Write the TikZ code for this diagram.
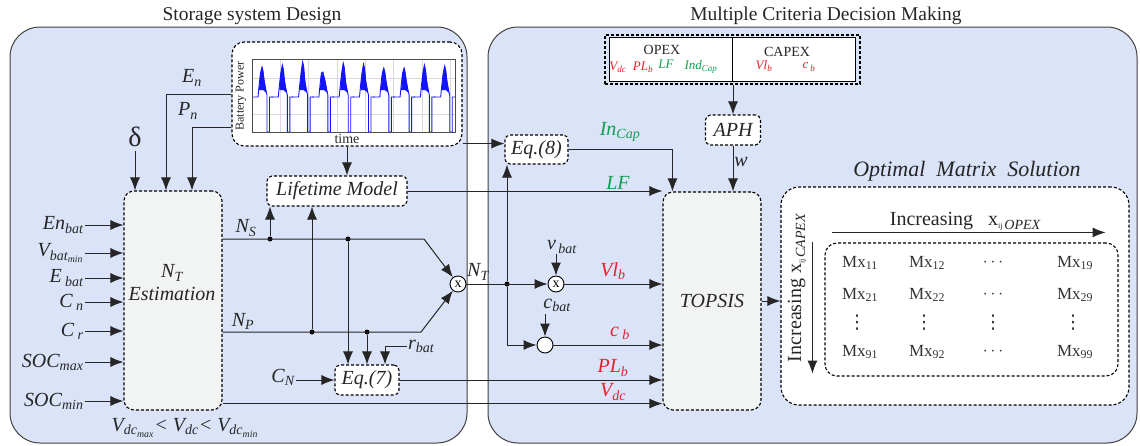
\documentclass[tikz,border=0pt]{standalone}
\usepackage{fontspec}
\setmainfont{Liberation Serif}
\newfontfamily\symfont{DejaVu Sans}
\usetikzlibrary{arrows.meta,positioning,calc}
\definecolor{panelblue}{RGB}{218,227,248}
\definecolor{boxgray}{RGB}{242,244,244}
\definecolor{optred}{RGB}{236,30,45}
\definecolor{optgreen}{RGB}{16,160,80}
\definecolor{pwrblue}{RGB}{20,20,250}
\newcommand{\bigfont}{\fontsize{20}{24}\selectfont}

\begin{document}
\begin{tikzpicture}
[x=1pt,y=-1pt, >={Latex[length=13pt,width=10pt]},
    panel/.style={draw=black!75,fill=panelblue,line width=1pt,rounded corners=30pt,inner sep=0},
    blk/.style={draw,densely dashed,line width=1.1pt,rounded corners=5pt,fill=white,inner sep=0,
    font=\bigfont\itshape,text=black!85},
    gblk/.style={blk,fill=boxgray,rounded corners=10pt},
    lab/.style={font=\bigfont\itshape,text=black!85,inner sep=1pt},
    rlab/.style={lab,text=optred},
    glab/.style={lab,text=optgreen},
    small/.style={font=\fontsize{13}{14}\selectfont\itshape},
    mult/.style={draw,solid,circle,fill=white,minimum size=16pt,inner sep=0,line width=0.9pt,
    font=\fontsize{14}{14}\selectfont},
    jn/.style={circle,fill=black,inner sep=0,minimum size=5pt},
    mx/.style={font=\fontsize{17}{20}\selectfont,text=black!80,inner sep=0}]
\useasboundingbox (0,0) rectangle (1140,445);
%%%%%%%%%%
%% frames
\node[panel,minimum width=457,minimum height=416] (sto) at (238.5,235) {};
\node[panel,minimum width=649,minimum height=416] (mcdm) at (812.5,235) {};
\node[font=\fontsize{19.5}{22}\selectfont,text=black!85] (stoT) at (252,16) {Storage system Design};
\node[font=\fontsize{19.5}{22}\selectfont,text=black!85] (mcdmT) at (826,16) {Multiple Criteria Decision Making};

%% battery power profile
\node[blk,rounded corners=12pt,minimum width=230,minimum height=104] (plot) at (347,94) {};
\begin{scope}
\draw[black!15,line width=0.6pt] (252,78) -- (455,78) (252,114) -- (455,114);
\foreach \gx in {280,308,337,365,393,422,450}
  \draw[black!15,line width=0.6pt] (\gx,59) -- (\gx,132);
\clip (252,59) rectangle (455,132);
\foreach \k/\pk in {0/67,1/65,2/62,3/72,4/63,5/64,6/68,7/68,8/65,9/66} {
  \pgfmathsetmacro\s{252+20.3*\k}
  \fill[pwrblue] ({\s+7},90) -- ({\s+8},76) -- ({\s+10},\pk) -- ({\s+11.5},{\pk+6})
    -- ({\s+13},84) -- ({\s+14.5},93) -- ({\s+11},90) -- cycle;
  \draw[pwrblue,line width=0.9pt] ({\s-1},97) -- ({\s+6},97) -- ({\s+7},86) -- ({\s+8.5},73)
    -- ({\s+10},\pk) -- ({\s+11},{\pk+4}) -- ({\s+12},80) -- ({\s+13.5},88) -- ({\s+14.5},93)
    -- ({\s+15},95) -- ({\s+15},132) -- ({\s+17.5},132) -- ({\s+17.5},97) -- ({\s+21},97);
}
\end{scope}
\draw[black!70,line width=0.8pt] (252,59) rectangle (455,132);
\node[font=\fontsize{12}{12}\selectfont,text=black!85,rotate=90] (pwr) at (241,96) {Battery Power};
\node[font=\fontsize{14}{14}\selectfont,text=black!85] (tm) at (347,139) {time};

%% storage blocks
\node[gblk,minimum width=98,minimum height=219] (est) at (173,300.5) {};
\node[lab,align=center] (estT) at (172,283) {N\textsubscript{T}\\[-1pt]Estimation};
\node[blk,minimum width=140,minimum height=30] (life) at (337,191) {Lifetime Model};
\node[blk,minimum width=64,minimum height=30] (eqseven) at (367,380) {Eq.(7)};
\node[mult] (mulT) at (458,284) {x};
\node[jn] (jS1) at (270,239) {};
\node[jn] (jS2) at (348,239) {};
\node[jn] (jP1) at (312,332) {};
\node[jn] (jP2) at (367,332) {};
\coordinate (nsb) at (424,239);
\coordinate (npb) at (421,332);

%% decision blocks
\node[gblk,minimum width=98,minimum height=218] (topsis) at (712,301) {TOPSIS};
\node[blk,minimum width=63,minimum height=29] (eqeight) at (536.5,149.5) {Eq.(8)};
\node[blk,minimum width=55,minimum height=30] (aph) at (733,130) {APH};
\node[mult] (mulV) at (556,284) {x};
\node[mult] (cost) at (545,345) {};
\node[jn] (jT) at (507,284) {};
\coordinate (vb0) at (556,254);
\coordinate (cb0) at (545,314);

%% criteria table
\node[draw,densely dashed,line width=1.1pt,minimum width=255,minimum height=49,inner sep=0] (crit) at (732.5,59.5) {};
\draw[fill=white,line width=0.8pt] ([shift={(5,3)}]crit.north west) rectangle ([shift={(-5,-3)}]crit.south east);
\draw[line width=0.8pt] ([yshift=-3pt]crit.north) -- ([yshift=3pt]crit.south);
\node[font=\fontsize{14}{16}\selectfont,text=black!85] (opex) at (662,50) {OPEX};
\node[font=\fontsize{14}{16}\selectfont,text=black!85] (capex) at (787,52) {CAPEX};
\node[rlab,small] (tvdc) at (618,67) {V\textsubscript{dc}};
\node[rlab,small] (tplb) at (643,67) {PL\textsubscript{b}};
\node[glab,small] (tlf) at (666,64) {LF};
\node[glab,small] (tind) at (701,67) {Ind\textsubscript{Cap}};
\node[rlab,small] (tvlb) at (764,66) {Vl\textsubscript{b}};
\node[rlab,small] (tcb) at (809,67) {c\,\textsubscript{b}};

%% optimal matrix
\node[blk,rounded corners=18pt,minimum width=348,minimum height=218] (opt) at (955,296) {};
\node[lab,font=\fontsize{22}{26}\selectfont\itshape] (optT) at (967,171) {Optimal\ \ Matrix\ \ Solution};
\node[blk,rounded corners=12pt,minimum width=293,minimum height=133] (mat) at (971.5,309.5) {};
\node[font=\fontsize{20}{24}\selectfont,text=black!85] (opexax) at (965,221)
  {Increasing\ \ \ x\textsubscript{\fontsize{8}{8}\selectfont ij\,}{\fontsize{14}{14}\selectfont\itshape\raisebox{-4pt}{OPEX}}};
\node[font=\fontsize{20}{24}\selectfont,text=black!85,rotate=90] (capexax) at (797,288)
  {Increasing x\textsubscript{\fontsize{8}{8}\selectfont ij\,}{\fontsize{14}{14}\selectfont\itshape\raisebox{-4pt}{CAPEX}}};
\foreach \r/\yy in {1/263,2/295,9/352} {
  \node[mx] (m\r1) at (860,\yy) {Mx\textsubscript{\r1}};
  \node[mx] (m\r2) at (927,\yy) {Mx\textsubscript{\r2}};
  \node[mx] (m\r3) at (993,\yy) {$\cdots$};
  \node[mx] (m\r9) at (1075,\yy) {Mx\textsubscript{\r9}};
}
\foreach \c/\xx in {1/857,2/924,3/993,9/1073}
  \node[mx,font=\fontsize{19}{19}\symfont] (mv\c) at (\xx,323) {⋮};

%% labels
\node[lab,font=\fontsize{28}{30}\selectfont] (dlt) at (135,137) {δ};
\node[lab] (en) at (192,78) {E\textsubscript{n}};
\node[lab] (pn) at (188,111) {P\textsubscript{n}};
\node[lab] (ns) at (246,228) {N\textsubscript{S}};
\node[lab] (np) at (243,321) {N\textsubscript{P}};
\node[lab,anchor=west] (rbat) at (407,346) {r\textsubscript{bat}};
\node[lab] (cN) at (283,377) {C\textsubscript{N}};
\node[lab] (vrange) at (185,428) {V\textsubscript{dc\textsubscript{max}}< V\textsubscript{dc}< V\textsubscript{dc\textsubscript{min}}};
\node[lab] (nt) at (478,272) {N\textsubscript{T}};
\node[lab] (vbat) at (562,247) {v\textsubscript{\,bat}};
\node[lab] (cbat) at (557,305) {c\textsubscript{bat}};
\node[glab] (incap) at (620,132) {In\textsubscript{Cap}};
\node[glab] (lf) at (618,183) {LF};
\node[rlab] (vlb) at (613,271) {Vl\textsubscript{b}};
\node[rlab] (cb) at (620,333) {c\,\textsubscript{b}};
\node[rlab] (plb) at (613,368) {PL\textsubscript{b}};
\node[rlab] (vdc) at (613,392) {V\textsubscript{dc}};
\node[lab] (w) at (741,162) {w};

%% edges
\begin{scope}[line width=1pt,black!85]
\foreach \nm/\txt/\yy in {enb/{En\textsubscript{bat}}/225, vbm/{V\textsubscript{bat\textsubscript{min}}}/253,
  eb/{E\,\textsubscript{bat}}/278, cn/{C\,\textsubscript{n}}/302, cr/{C\,\textsubscript{r}}/331,
  socx/{SOC\textsubscript{max}}/362, socn/{SOC\textsubscript{min}}/401} {
  \node[lab,anchor=east] (\nm) at (85,\yy) {\txt};
  \draw[->] (\nm.east) -- (est.west |- \nm.east);
}
\draw[->] ([yshift=-3pt]dlt.south) -- (dlt.south |- est.north);
\draw[->] (plot.west) -| ([xshift=-7pt]est.north);
\draw[->] ([yshift=-33pt]plot.west) -| ([xshift=19pt]est.north);
\draw[->] (plot.south) -- (plot.south |- life.north);
\draw[->] (est.east |- nsb) -- (nsb) -- (mulT);
\draw[->] (est.east |- npb) -- (npb) -- (mulT);
\draw[->] (jS1) -- (jS1 |- life.south);
\draw[->] (jP1) -- (jP1 |- life.south);
\draw[->] (jS2) -- (jS2 |- eqseven.north);
\draw[->] (jP2) -- (eqseven.north);
\draw[->] (rbat.west) -| ([xshift=18pt]eqseven.north);
\draw[->] (cN.east |- eqseven.west) -- (eqseven.west);
\draw[->] (life.east) -- (life.east -| topsis.west);
\draw[->] (eqseven.east) -- (eqseven.east -| topsis.west);
\draw[->] ([yshift=7pt]est.south east) coordinate (vdc0) -- (vdc0 -| topsis.west);
%%
\draw[->] (mulT.east) -- (mulV.west);
\draw[->] (jT) -- (jT |- eqeight.south);
\draw[->] (jT) |- (cost.west);
\draw[->] ([yshift=3pt]plot.south east) coordinate (pe) -- (pe -| eqeight.west);
\draw[->] (eqeight.east) -| ([xshift=10pt]topsis.north west);
\draw[->] (vb0) -- (mulV.north);
\draw[->] (cb0) -- (cost.north);
\draw[->] (mulV.east) -- (mulV.east -| topsis.west);
\draw[->] (cost.east) -- (cost.east -| topsis.west);
\draw[->] (crit.south -| aph) -- (aph.north);
\draw[->] (aph.south) -- (aph.south |- topsis.north);
\draw[->] (topsis.east) -- (topsis.east -| opt.west);
\draw[->] ([xshift=8pt,yshift=10pt]mat.north west) -- ([xshift=-13pt,yshift=10pt]mat.north east);
\draw[->] ([xshift=-12pt]mat.north west) -- ([xshift=-12pt,yshift=3pt]mat.south west);
\end{scope}
%%
\end{tikzpicture}
\end{document}
